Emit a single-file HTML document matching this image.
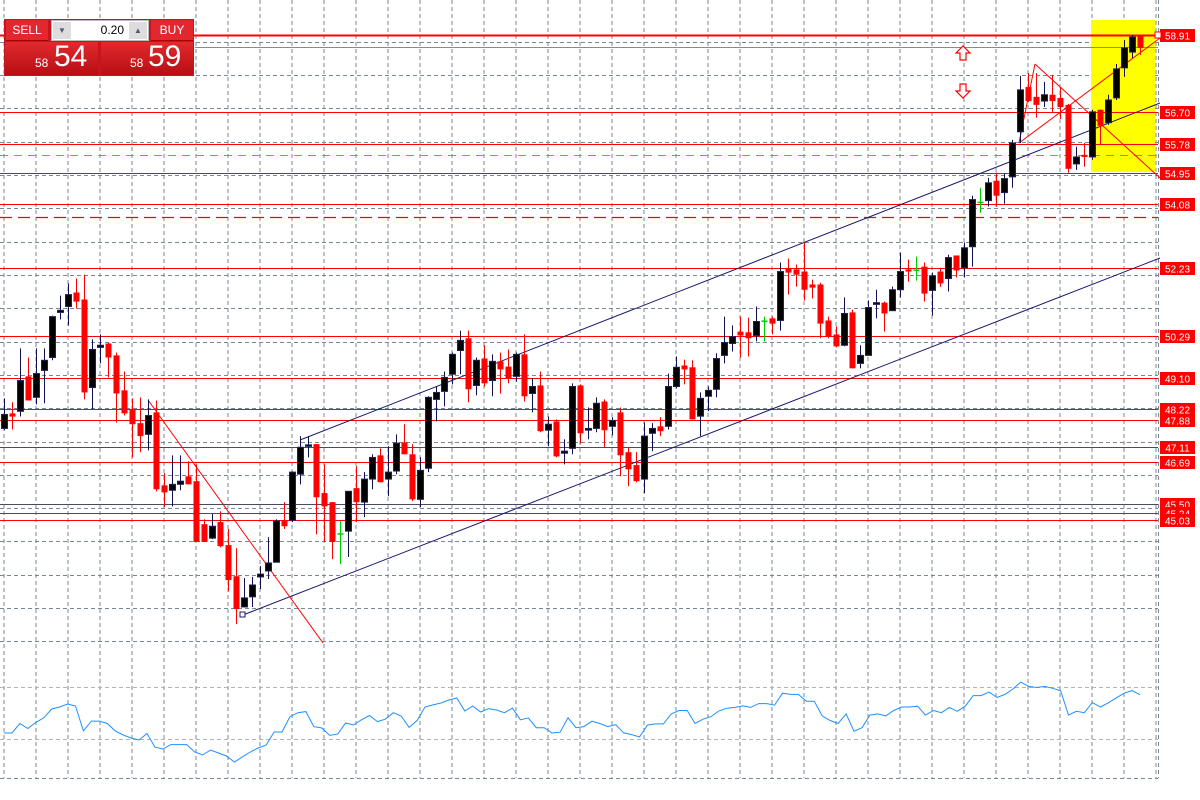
<!DOCTYPE html>
<html><head><meta charset="utf-8"><style>
body{margin:0;background:#fff;width:1200px;height:800px;overflow:hidden;font-family:"Liberation Sans",sans-serif}
svg{position:absolute;left:0;top:0}
.w{position:absolute}
</style></head><body>
<svg id="chart" width="1200" height="800" xmlns="http://www.w3.org/2000/svg"></svg>

<div class="w" style="left:4px;top:19px;width:190px;height:57px;background:#c8141c;">
  <div style="position:absolute;left:2px;top:1px;width:42px;height:20px;color:#fff;font-size:12px;line-height:20px;text-align:center;background:#e0282e;border-bottom:1px solid #a00">SELL</div>
  <div style="position:absolute;left:47px;top:1px;width:96px;height:19px;background:#fff;border:1px solid #bbb;">
    <div style="position:absolute;left:1px;top:1px;width:18px;height:17px;background:#ddd;color:#557;font-size:8px;text-align:center;line-height:17px">▼</div>
    <div style="position:absolute;left:22px;top:0;width:50px;height:19px;font-size:12px;line-height:19px;text-align:right;color:#000">0.20</div>
    <div style="position:absolute;right:1px;top:1px;width:18px;height:17px;background:#ddd;color:#557;font-size:8px;text-align:center;line-height:17px">▲</div>
  </div>
  <div style="position:absolute;left:147px;top:1px;width:42px;height:20px;color:#fff;font-size:12px;line-height:20px;text-align:center;background:#e0282e;border-bottom:1px solid #a00">BUY</div>
  <div style="position:absolute;left:1px;top:23px;width:93px;height:33px;background:linear-gradient(#e02a2e,#b80e14);color:#fff;">
    <span style="position:absolute;left:30px;top:14px;font-size:12px">58</span><span style="position:absolute;left:49px;top:-2px;font-size:30px">54</span></div>
  <div style="position:absolute;left:97px;top:23px;width:92px;height:33px;background:linear-gradient(#e02a2e,#b80e14);color:#fff;">
    <span style="position:absolute;left:29px;top:14px;font-size:12px">58</span><span style="position:absolute;left:47px;top:-2px;font-size:30px">59</span></div>
</div>

<script>
const opens=[47.65,48.08,48.14,49.14,48.54,49.31,49.68,50.97,51.14,51.54,51.34,48.82,49.97,50.08,49.74,48.74,48.20,47.80,47.48,48.11,46.02,45.88,46.05,46.28,46.14,44.91,44.51,44.97,44.31,43.42,42.54,42.83,43.40,43.57,43.82,45.00,45.02,46.34,47.17,47.20,45.80,45.54,44.65,44.71,45.94,45.54,46.20,46.88,46.20,46.43,47.25,46.91,45.62,46.51,48.48,48.71,49.20,49.88,50.23,48.88,49.65,49.02,49.57,49.42,49.14,49.77,48.65,48.88,47.60,47.85,46.94,47.08,48.88,47.60,47.65,48.42,47.71,48.11,46.97,46.60,46.20,47.51,47.71,47.71,48.85,49.45,49.40,48.00,48.57,48.77,49.74,50.08,50.42,50.40,50.31,50.74,50.80,50.74,52.22,52.20,52.14,51.77,51.77,50.74,50.34,50.03,50.97,49.51,49.74,51.20,51.25,51.02,51.62,52.20,52.20,52.28,51.60,52.14,51.94,52.60,52.25,52.85,54.14,54.17,54.74,54.40,54.85,56.14,57.42,57.14,57.02,57.20,57.11,56.91,55.22,55.48,55.42,56.77,56.40,57.11,57.97,58.42,58.91];
const highs=[48.51,48.40,49.94,49.68,49.94,49.94,50.88,51.45,51.80,51.94,52.05,50.20,50.34,50.11,49.82,49.28,48.51,48.54,48.48,48.45,46.37,46.88,46.88,46.71,46.62,45.05,45.20,45.28,44.77,44.22,43.37,43.40,43.71,44.54,45.05,45.54,46.42,47.43,47.43,47.20,46.62,45.54,45.00,45.85,46.57,46.40,46.91,47.08,47.14,47.48,47.77,47.20,46.82,48.57,48.85,49.28,49.82,50.45,50.45,49.68,50.03,49.77,49.82,49.91,49.82,50.34,49.08,49.28,47.99,47.91,47.34,48.94,48.91,48.25,48.54,48.48,47.97,48.25,47.11,46.97,47.82,47.80,47.97,49.22,49.71,49.62,49.60,48.68,48.85,49.80,50.85,50.60,50.85,50.82,51.14,50.85,50.85,52.40,52.51,52.34,52.97,51.91,51.82,50.85,50.57,51.40,51.05,50.03,51.31,51.62,51.28,51.71,52.68,52.48,52.57,52.40,52.11,52.25,52.62,52.60,52.97,54.31,54.54,54.82,54.97,54.94,55.91,57.74,57.82,57.82,57.57,57.77,57.42,56.94,55.71,55.82,56.77,56.77,57.20,58.08,58.77,58.91,58.91];
const lows=[47.60,47.62,47.99,48.45,48.34,48.37,49.60,50.77,50.60,51.08,48.48,48.20,49.51,49.11,47.82,48.02,46.82,46.97,47.02,45.85,45.40,45.42,45.88,46.05,44.40,44.40,44.48,44.25,42.99,42.05,42.54,42.54,43.05,43.34,43.82,44.77,44.97,46.05,46.82,44.62,44.40,43.91,43.77,43.97,44.97,45.11,45.91,46.11,45.71,46.34,46.91,45.57,45.40,46.40,47.85,48.28,48.91,49.20,48.40,48.60,48.85,48.57,48.65,48.94,48.99,48.42,48.11,47.54,47.14,46.82,46.62,46.91,47.22,47.34,47.54,47.11,47.45,46.28,46.00,46.11,45.80,47.00,47.43,47.62,48.80,48.91,47.91,47.43,48.14,48.54,49.51,49.85,49.68,49.71,50.14,50.14,50.34,50.45,51.48,51.71,51.31,51.37,50.23,50.23,49.97,50.00,49.37,49.37,49.74,50.80,50.42,51.02,51.40,51.85,51.88,51.28,50.88,51.70,51.57,51.97,51.97,52.28,53.82,54.00,54.00,54.08,54.54,55.82,56.99,56.54,56.85,56.71,56.51,54.97,55.05,55.14,55.34,55.77,56.34,57.05,57.71,58.25,58.34];
const closes=[48.05,47.99,49.02,48.45,49.22,49.60,50.85,51.03,51.48,51.28,48.68,49.91,50.03,49.68,48.65,48.08,47.77,47.43,48.02,45.91,45.82,46.05,46.14,46.05,44.40,44.40,44.85,44.28,43.31,42.48,42.80,43.17,43.48,43.80,45.00,44.85,46.40,47.11,47.18,45.68,45.42,44.40,44.65,45.85,45.54,46.20,46.82,46.11,46.40,47.23,46.91,45.62,46.45,48.54,48.68,49.11,49.77,50.17,48.77,49.60,48.94,49.57,49.34,49.08,49.77,48.57,48.85,47.57,47.77,46.85,47.00,48.85,47.51,47.65,48.37,47.60,47.88,46.88,46.48,46.14,47.43,47.65,47.57,48.85,49.40,49.34,47.91,48.51,48.74,49.65,50.11,50.28,50.31,50.23,50.71,50.74,50.65,52.14,52.11,52.05,51.62,51.68,50.65,50.28,50.00,50.94,49.37,49.74,51.11,51.25,50.94,51.62,52.14,52.14,52.20,51.51,52.02,51.80,52.54,52.17,52.82,54.20,54.14,54.68,54.31,54.80,55.82,57.34,57.02,56.91,57.20,57.02,56.85,55.08,55.42,55.42,56.71,56.31,57.05,57.94,58.54,58.85,58.54];
const levelPrices=[58.91,56.70,55.78,54.95,54.08,52.23,50.29,49.10,48.22,47.88,47.11,46.69,45.50,45.24,45.03];
const levelLabels=["58.91","56.70","55.78","54.95","54.08","52.23","50.29","49.10","48.22","47.88","47.11","46.69","45.50","45.24","45.03"];
const levelDark=[false,false,false,true,false,false,false,false,false,false,true,false,true,true,false];
const oscValues=[34.6,34.6,41.9,38.1,42.8,46.2,53.1,54.6,56.9,55.4,36.2,43.8,43.8,41.9,36.2,33.1,30.8,29.2,34.2,23.8,22.3,25.7,25.7,25.7,20,17.7,21.5,19.2,16.9,12.3,16.2,20,23.1,25.4,35.4,35.4,47.2,50.2,51.1,39.5,38.5,32.8,33.8,42.3,40.8,44.8,48.1,43.4,45.2,50.2,47.7,38.9,44.2,54.6,56.2,57.7,60,61.5,51.5,55.4,50.8,53.4,52.3,50.2,53.8,44.8,46.2,38.7,38.7,34.6,35.2,46.3,38.7,39.5,43.7,41.9,39.5,41,34.8,33.4,31.6,40.7,41.6,41.6,49.3,51.9,51.9,41.9,45.2,47.2,51.6,53.7,54.3,55.5,54.3,57.2,57.2,56.1,65.2,64.3,64.3,59,59,47.8,44.2,41.9,49.3,36,38.7,48.4,49.3,47.8,51.9,54.6,54.6,55.2,48.4,51.9,50.2,54.3,51.3,55.2,63.4,63.4,66.1,61.9,64.3,68.5,73.8,70.5,69.6,70.5,69,67.2,48.4,51.3,50.2,58.1,54.6,57.8,61.6,65.2,67.2,64];

const NS="http://www.w3.org/2000/svg";
const svg=document.getElementById('chart');
const X0=4, STEP=8, RIGHT=1158;
const yP=p=>35+(58.91-p)*34.94;
const xI=i=>X0+i*STEP;
const yO=v=>687+(70-v)*1.3;
function mk(tag,attrs,parent){const e=document.createElementNS(NS,tag);for(const k in attrs)e.setAttribute(k,attrs[k]);(parent||svg).appendChild(e);return e;}

// grid
const grid=mk('g',{});


for(let x=4;x<=RIGHT;x+=32){const l=mk('line',{x1:x,y1:0,x2:x,y2:778,stroke:'#7a8794','stroke-dasharray':'4,3','stroke-width':1},grid);}
for(let k=1;k<20;k++){const y=Math.round(8.6+33.3*k)+0.5;const l=mk('line',{x1:0,y1:y,x2:RIGHT,y2:y,stroke:'#7a8794','stroke-dasharray':'4,3'},grid);}
[778.5].forEach(y=>{const l=mk('line',{x1:0,y1:y,x2:RIGHT,y2:y,stroke:'#7a8794','stroke-dasharray':'4,3'},grid);});
mk('line',{x1:RIGHT+0.5,y1:0,x2:RIGHT+0.5,y2:778,stroke:'#7a8794','stroke-dasharray':'4,3'},grid);

// highlight box
const hb=mk('rect',{x:1091,y:20,width:64,height:152,fill:'#ffff00'});



// extra lines
const g1=mk('line',{x1:195,y1:47.5,x2:RIGHT,y2:47.5,stroke:'#8a8a8a'});


const gd=mk('line',{x1:0,y1:155.5,x2:RIGHT,y2:155.5,stroke:'#33cc33','stroke-dasharray':'8,6'});


const rd=mk('line',{x1:0,y1:217.5,x2:RIGHT,y2:217.5,stroke:'#ff0000','stroke-width':1.3,'stroke-dasharray':'12,6'});



// levels
levelPrices.forEach((p,i)=>{
  const y=Math.round(yP(p))+0.5;
  const l=mk('line',{x1:0,y1:y,x2:RIGHT,y2:y,stroke:levelDark[i]?'#4a4a66':'#ff0000','stroke-width':i===0?2:1});
  
  
  const r=mk('rect',{x:1160,y:y-6.5,width:35,height:13,fill:'#ff0000'});
  
  
  const t=mk('text',{x:1177.5,y:y+4,'font-size':10,fill:'#fff','text-anchor':'middle','font-family':'Liberation Sans, sans-serif'});
  t.textContent=levelLabels[i];
  
  
});
const sq=mk('rect',{x:1155,y:32,width:6,height:6,fill:'#fff',stroke:'#f00'});



// trend lines
function tl(x1,y1,x2,y2,c,name){const l=mk('line',{x1,y1,x2,y2,stroke:c,'stroke-width':1});}
tl(300,440,1160,103,'#1a1a6e','channel-upper');
tl(243,615,1160,258,'#1a1a6e','channel-lower');
tl(148,400,323,643,'#ff0000','downtrend-line');
tl(1019,143,1160,38,'#ff0000','uptrend-line');
tl(1035,64,1160,178,'#ff0000','pullback-line');
tl(1019,143,1035,64,'#ff0000','pattern-line');
const cs=mk('rect',{x:240,y:612,width:5,height:5,fill:'#fff',stroke:'#1a1a6e'});



// candles
const cg=mk('g',{});


for(let i=0;i<opens.length;i++){
  const o=opens[i],c=closes[i],h=highs[i],lo=lows[i];
  const x=xI(i);
  const up=c>o, doji=Math.abs(c-o)<0.02;
  const col=doji?'#00cc00':(up?'#101030':'#ff0000');
  const w=mk('line',{x1:x+0.5,y1:yP(h),x2:x+0.5,y2:yP(lo),stroke:up?'#101050':col},cg);
  
  
  const top=yP(Math.max(o,c)),bot=yP(Math.min(o,c));
  const b=mk('rect',{x:x-2.5,y:top,width:6,height:Math.max(1.5,bot-top),fill:up?'#000':col,stroke:up?'#22225a':col,'stroke-width':up?1:0},cg);
  
  
}

// arrows
function arrow(x,y,down){const d=down?`M${x-3},${y} h6 v7 h4 l-7,7 l-7,-7 h4 z`:`M${x-3},${y+14} h6 v-7 h4 l-7,-7 l-7,7 h4 z`;const a=mk('path',{d,fill:'#fff',stroke:'#ff0000','stroke-width':1.2});}
arrow(963,46,false);arrow(963,84,true);

// oscillator
const lv=mk('g',{});


[70,30].forEach(v=>{mk('line',{x1:0,y1:yO(v)+0.5,x2:RIGHT,y2:yO(v)+0.5,stroke:'#b4b4b4','stroke-dasharray':'4,3'},lv);});
const n=oscValues.length, ost=(xI(opens.length-1)-X0)/(n-1);
const pts=oscValues.map((v,i)=>(X0+i*ost).toFixed(1)+','+yO(v).toFixed(1)).join(' ');
const pl=mk('polyline',{points:pts,fill:'none',stroke:'#1e90ff','stroke-width':1});


</script>
</body></html>
